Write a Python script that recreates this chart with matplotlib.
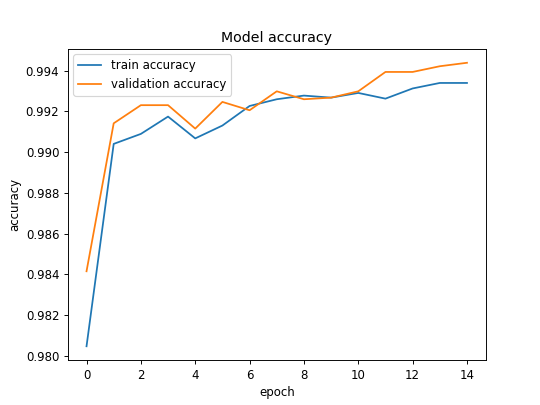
import matplotlib
matplotlib.use('Agg')
import matplotlib.pyplot as plt

# accuracy per epoch
epochs = list(range(15))
train_acc = [0.98047, 0.9904, 0.99089, 0.99174, 0.99067, 0.9913, 0.99226, 0.99259,
             0.99277, 0.99267, 0.9929, 0.99262, 0.99312, 0.99339, 0.99339]
val_acc = [0.98415, 0.99141, 0.9923, 0.9923, 0.99115, 0.99246, 0.99205, 0.99298,
           0.99259, 0.99267, 0.99298, 0.99393, 0.99393, 0.99421, 0.99438]

fig, ax = plt.subplots(figsize=(6.4, 4.8), dpi=84.375)

ax.plot(epochs, train_acc)
ax.plot(epochs, val_acc)

ax.set_title('Model accuracy')
ax.set_ylabel('accuracy')
ax.set_xlabel('epoch')
ax.legend(['train accuracy', 'validation accuracy'], loc='upper left')

plt.savefig('out.png', dpi=84.375)
